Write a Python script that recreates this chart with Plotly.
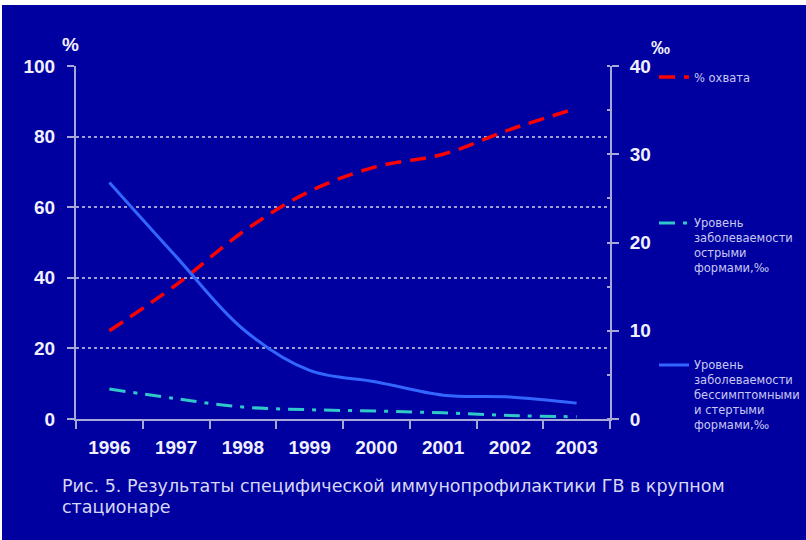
import plotly.graph_objects as go

years = ["1996", "1997", "1998", "1999", "2000", "2001", "2002", "2003"]
coverage_pct = [25, 38, 53, 64.5, 71.5, 75, 82, 88]
acute_permille = [3.4, 2.3, 1.35, 1.05, 0.9, 0.7, 0.4, 0.25]
latent_permille = [26.8, 18.4, 10.2, 5.5, 4.2, 2.7, 2.5, 1.8]

BG = "#0000A0"
AX = "#A8A8D8"
TXT = "#F0F0FF"
LEG = "#C8C8F0"

W, H = 806, 540
L, R, T, B = 76, 196, 66, 121
PW, PH = W - L - R, H - T - B


def px(x):
    return (x - L) / PW


def py(y):
    return (H - B - y) / PH


fig = go.Figure()
fig.add_trace(go.Scatter(
    x=years, y=coverage_pct, name="% охвата", mode="lines",
    line=dict(color="#FF0000", width=3.5, dash="16px,9px", shape="spline"),
    yaxis="y", legend="legend"))
fig.add_trace(go.Scatter(
    x=years, y=acute_permille, name="Уровень<br>заболеваемости<br>острыми<br>формами,‰",
    mode="lines",
    line=dict(color="#30C8C8", width=3, dash="16px,8px,4px,8px", shape="spline"),
    yaxis="y2", legend="legend2"))
fig.add_trace(go.Scatter(
    x=years, y=latent_permille,
    name="Уровень<br>заболеваемости<br>бессимптомными<br>и стертыми<br>формами,‰",
    mode="lines",
    line=dict(color="#3366FF", width=3, shape="spline"),
    yaxis="y2", legend="legend3"))

tickfont = dict(family="Liberation Sans, Arial, sans-serif", size=19, color=TXT)
legfont = dict(family="DejaVu Sans, sans-serif", size=11.5, color=LEG)

fig.update_layout(
    width=W, height=H,
    margin=dict(l=L, r=R, t=T, b=B, autoexpand=False),
    paper_bgcolor=BG, plot_bgcolor=BG,
    xaxis=dict(type="category", range=[-0.5, 7.5], tickson="boundaries",
               showline=True, linecolor=AX, linewidth=2,
               ticks="outside", ticklen=8, tickcolor=AX, tickwidth=2,
               showgrid=False, tickfont=tickfont, ticklabelstandoff=10,
               tickprefix="<b>", ticksuffix="</b>"),
    yaxis=dict(range=[0, 100], dtick=20, showline=True, linecolor=AX, linewidth=2,
               ticks="outside", ticklen=7, tickcolor=AX, tickwidth=2,
               showgrid=True, gridcolor="#A0A0D0", griddash="dot", gridwidth=1.5,
               zeroline=False, tickfont=tickfont, ticklabelstandoff=8,
               tickprefix="<b>", ticksuffix="</b>"),
    yaxis2=dict(range=[0, 40], dtick=10, overlaying="y", side="right",
                showline=True, linecolor=AX, linewidth=2,
                ticks="outside", ticklen=7, tickcolor=AX, tickwidth=2,
                minor=dict(ticks="inside", dtick=5, ticklen=3, tickcolor=AX),
                showgrid=False, zeroline=False, tickfont=tickfont, ticklabelstandoff=7,
                tickprefix="<b>", ticksuffix="</b>"),
    legend=dict(x=px(654), y=py(63), xanchor="left", yanchor="top",
                bgcolor="rgba(0,0,0,0)", font=legfont, valign="top"),
    legend2=dict(x=px(654), y=py(209), xanchor="left", yanchor="top",
                 bgcolor="rgba(0,0,0,0)", font=legfont, valign="top"),
    legend3=dict(x=px(654), y=py(351), xanchor="left", yanchor="top",
                 bgcolor="rgba(0,0,0,0)", font=legfont, valign="top"),
    showlegend=True,
)

annots = [
    dict(text="<b>%</b>", x=px(70), y=py(44), font=tickfont),
    dict(text="<b>‰</b>", x=px(660), y=py(47), font=tickfont),
]
for a in annots:
    fig.add_annotation(xref="paper", yref="paper", showarrow=False,
                       xanchor="center", yanchor="middle", **a)

capfont = dict(family="DejaVu Sans, sans-serif", size=17.5, color="#D8D8F4")
fig.add_annotation(xref="paper", yref="paper", showarrow=False, xanchor="left",
                   yanchor="middle", x=px(60), y=py(486),
                   text="Рис. 5. Результаты специфической иммунопрофилактики ГВ в крупном",
                   font=capfont)
fig.add_annotation(xref="paper", yref="paper", showarrow=False, xanchor="left",
                   yanchor="middle", x=px(60), y=py(507),
                   text="стационаре", font=capfont)

# white strips along the top and left edge of the picture
fig.add_shape(type="rect", xref="paper", yref="paper", layer="above",
              x0=px(0), x1=px(W), y0=py(5), y1=py(0),
              fillcolor="white", line=dict(width=0))
fig.add_shape(type="rect", xref="paper", yref="paper", layer="above",
              x0=px(0), x1=px(2), y0=py(H), y1=py(0),
              fillcolor="white", line=dict(width=0))

fig.write_html("out.html")
